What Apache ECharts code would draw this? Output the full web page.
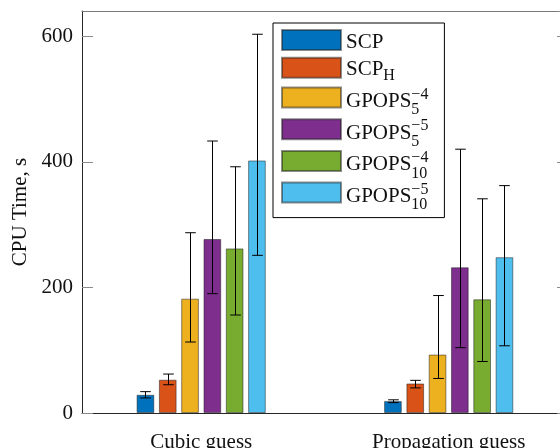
<!DOCTYPE html>
<html>
<head>
<meta charset="utf-8">
<title>CPU Time</title>
<style>
  html, body { margin: 0; padding: 0; background: #fff; overflow: hidden; }
</style>
</head>
<body>
<div id="chart" style="width:560px;height:448px;"></div>
<script src="https://cdn.jsdelivr.net/npm/echarts@6/dist/echarts.min.js"></script>
<script>
// categories and series names
var categories = ['Cubic guess', 'Propagation guess'];
var seriesNames = ['SCP', 'SCP_H', 'G5_4', 'G5_5', 'G10_4', 'G10_5'];
var legendText = [
  '{s1| }{b|SCP}',
  '{s2| }{bh|SCP}{lo|H}',
  '{s3| }{g|GPOPS}{sup|\u22124}{sub|5}',
  '{s3| }{g|GPOPS}{sup|\u22125}{sub|5}',
  '{s3| }{g|GPOPS}{sup|\u22124}{sub|10}',
  '{s3| }{g|GPOPS}{sup|\u22125}{sub|10}'
];
var colors = ['#0072BD', '#D95319', '#EDB120', '#7E2F8E', '#77AC30', '#4DBEEE'];

// mean CPU time, per series: [cubic, propagation]
var meanSCP   = [29, 19];
var meanSCPH  = [53, 47];
var meanG5_4  = [182, 93];
var meanG5_5  = [277, 232];
var meanG10_4 = [262, 181];
var meanG10_5 = [402, 248];

// error bar lower / upper ends
var lowSCP   = [24, 16.5];
var highSCP  = [34, 21];
var lowSCPH  = [45, 40];
var highSCPH = [62, 52];
var lowG5_4  = [113, 55];
var highG5_4 = [287, 187];
var lowG5_5  = [190, 104];
var highG5_5 = [433, 420];
var lowG10_4 = [156, 82];
var highG10_4 = [392, 341];
var lowG10_5 = [251, 107];
var highG10_5 = [603, 362];

var means = [meanSCP, meanSCPH, meanG5_4, meanG5_5, meanG10_4, meanG10_5];
var lows = [lowSCP, lowSCPH, lowG5_4, lowG5_5, lowG10_4, lowG10_5];
var highs = [highSCP, highSCPH, highG5_4, highG5_5, highG10_4, highG10_5];

var font = 'Liberation Serif';
var barW = 17.7;
var barStep = 22.3;
var xMin = 0.5184, xMax = 2.4497;

var chart = echarts.init(document.getElementById('chart'));

var series = [];
seriesNames.forEach(function (name, i) {
  series.push({
    name: name,
    type: 'bar',
    barWidth: barW,
    barGap: '26%',
    data: means[i].map(function (v, k) { return [k + 1, v]; }),
    itemStyle: { color: colors[i], borderColor: 'rgba(30,30,30,0.5)', borderWidth: 1 },
    silent: true
  });
});
seriesNames.forEach(function (name, i) {
  series.push({
    type: 'custom',
    z: 5,
    silent: true,
    data: means[i].map(function (v, k) { return [k + 1, lows[i][k], highs[i][k]]; }),
    renderItem: function (params, api) {
      var off = (i - 2.5) * barStep;
      var top = api.coord([api.value(0), api.value(2)]);
      var bot = api.coord([api.value(0), api.value(1)]);
      var x = Math.round(top[0] + off) + 0.5;
      var cap = 5.3;
      var st = { stroke: '#000', lineWidth: 1 };
      return {
        type: 'group',
        children: [
          { type: 'line', shape: { x1: x, y1: top[1], x2: x, y2: bot[1] }, style: st },
          { type: 'line', shape: { x1: x - cap, y1: top[1], x2: x + cap, y2: top[1] }, style: st },
          { type: 'line', shape: { x1: x - cap, y1: bot[1], x2: x + cap, y2: bot[1] }, style: st }
        ]
      };
    }
  });
});

var txt = { fontFamily: font, color: '#111' };
function rs(o) { return Object.assign({}, txt, o); }

var option = {
  animation: false,
  textStyle: { fontFamily: font },
  grid: { left: 82, top: 11, right: 0, height: 402, containLabel: false, outerBoundsMode: 'none' },
  legend: {
    orient: 'vertical',
    left: 273,
    top: 23,
    data: seriesNames,
    icon: 'rect',
    itemWidth: 59,
    itemHeight: 20,
    itemGap: -11.3,
    padding: [-2, 16, 3.5, 8],
    borderColor: '#000',
    borderWidth: 1,
    borderRadius: 0,
    backgroundColor: '#fff',
    selectedMode: false,
    formatter: function (name) {
      return legendText[seriesNames.indexOf(name)];
    },
    textStyle: {
      fontFamily: font,
      fontSize: 21,
      color: '#111',
      rich: {
        s1: rs({ fontSize: 1, lineHeight: 46, width: 0 }),
        s2: rs({ fontSize: 1, lineHeight: 39, width: 0 }),
        s3: rs({ fontSize: 1, lineHeight: 43, width: 0 }),
        b: rs({ fontSize: 21, height: 42, lineHeight: 20, verticalAlign: 'bottom' }),
        bh: rs({ fontSize: 21, height: 35.6, lineHeight: 20, verticalAlign: 'bottom' }),
        lo: rs({ fontSize: 16, height: 24, lineHeight: 10, verticalAlign: 'bottom' }),
        g: rs({ fontSize: 21, height: 35, lineHeight: 20, verticalAlign: 'bottom' }),
        sup: rs({ fontSize: 16, height: 37, lineHeight: 20, verticalAlign: 'top', width: 0, align: 'left' }),
        sub: rs({ fontSize: 16, height: 18, lineHeight: 10, verticalAlign: 'bottom' })
      }
    }
  },
  xAxis: [{
    type: 'value',
    min: xMin,
    max: xMax,
    axisLine: { lineStyle: { color: '#262626', width: 1 } },
    axisTick: { show: false },
    splitLine: { show: false },
    axisLabel: {
      customValues: [1, 2],
      formatter: function (v) { return categories[Math.round(v) - 1]; },
      fontFamily: font,
      fontSize: 21,
      color: '#111',
      margin: 18.5
    }
  }, {
    type: 'value',
    position: 'top',
    min: xMin,
    max: xMax,
    axisLine: { onZero: false, lineStyle: { color: '#7a7a7a', width: 1 } },
    axisTick: { show: false },
    axisLabel: { show: false },
    splitLine: { show: false }
  }],
  yAxis: [{
    type: 'value',
    min: 0,
    max: 640,
    interval: 200,
    name: 'CPU Time, s',
    nameLocation: 'middle',
    nameGap: 51,
    nameTextStyle: { fontFamily: font, fontSize: 21, color: '#111' },
    axisLine: { show: true, lineStyle: { color: '#262626', width: 1 } },
    axisTick: { show: true, inside: true, length: 11, lineStyle: { color: '#8a8a8a' } },
    splitLine: { show: false },
    axisLabel: {
      showMaxLabel: false,
      fontFamily: font,
      fontSize: 21,
      color: '#111',
      margin: 9
    }
  }, {
    type: 'value',
    position: 'right',
    offset: 8,
    min: 0,
    max: 640,
    interval: 200,
    axisLine: { show: true, lineStyle: { color: '#7a7a7a' } },
    axisTick: { show: true, inside: true, length: 11, lineStyle: { color: '#8a8a8a' } },
    axisLabel: { show: false },
    splitLine: { show: false }
  }],
  series: series
};

chart.setOption(option);
</script>
</body>
</html>
